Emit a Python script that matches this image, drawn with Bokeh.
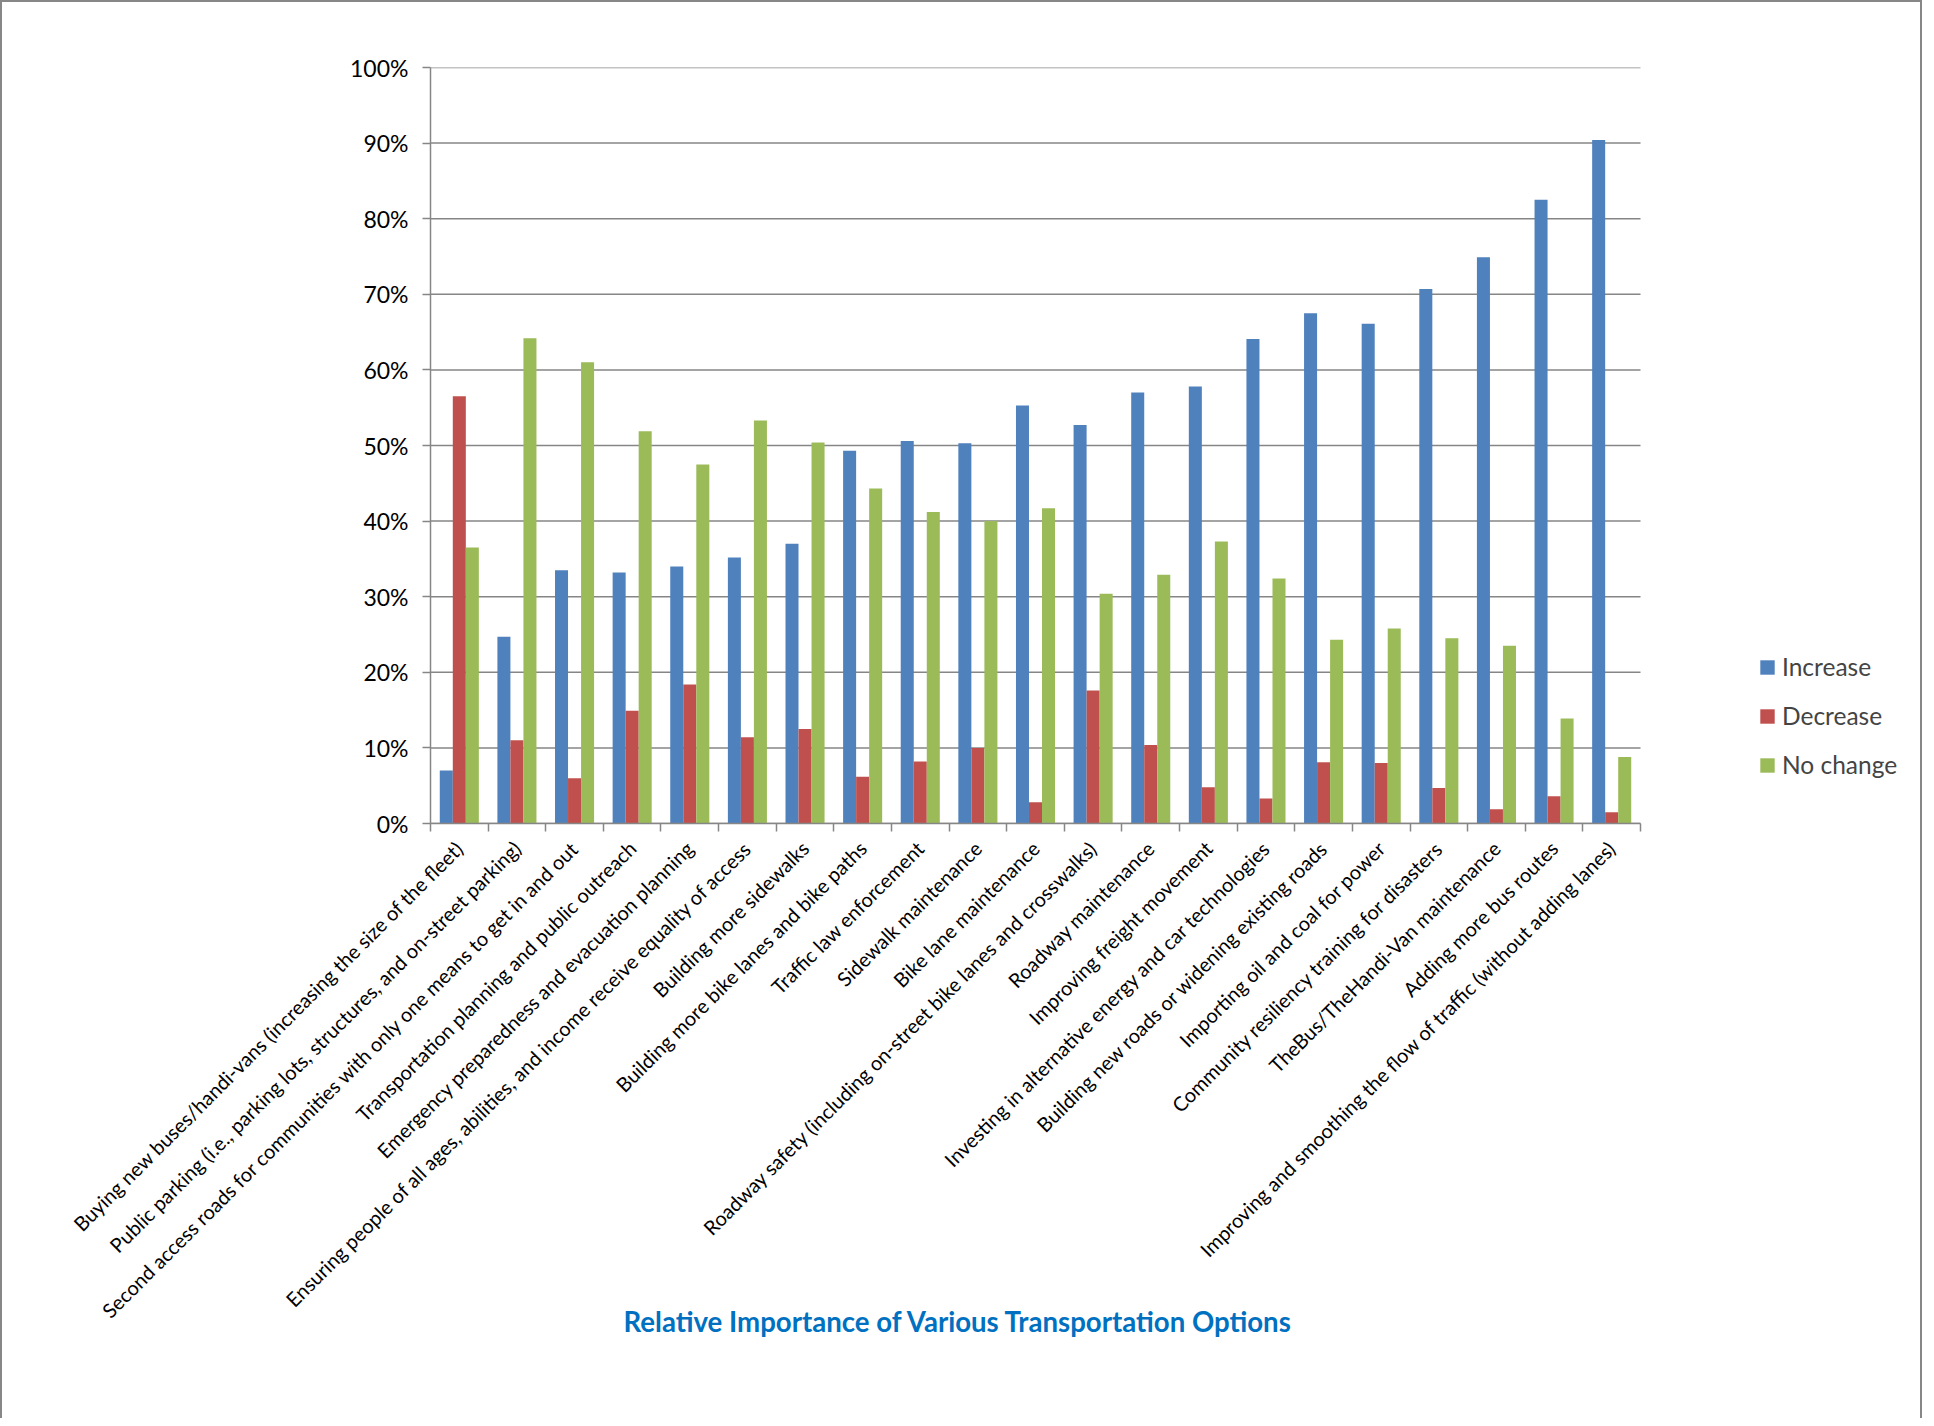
from math import pi
from bokeh.plotting import figure
from bokeh.models import (ColumnDataSource, Range1d, LinearAxis, FixedTicker,
                          PrintfTickFormatter, Legend, LegendItem, Title)
from bokeh.transform import dodge
from bokeh.embed import file_html
from bokeh.resources import INLINE

# ---------------- data ----------------
categories = [
    "Buying new buses/handi-vans (increasing the size of the fleet)",
    "Public parking (i.e., parking lots, structures, and on-street parking)",
    "Second access roads for communities with only one means to get in and out",
    "Transportation planning and public outreach",
    "Emergency preparedness and evacuation planning",
    "Ensuring people of all ages, abilities, and income receive equality of access",
    "Building more sidewalks",
    "Building more bike lanes and bike paths",
    "Traffic law enforcement",
    "Sidewalk maintenance",
    "Bike lane maintenance",
    "Roadway safety (including on-street bike lanes and crosswalks)",
    "Roadway maintenance",
    "Improving freight movement",
    "Investing in alternative energy and car technologies",
    "Building new roads or widening existing roads",
    "Importing oil and coal for power",
    "Community resiliency training for disasters",
    "TheBus/TheHandi-Van maintenance",
    "Adding more bus routes",
    "Improving and smoothing the flow of traffic (without adding lanes)",
]
increase = [7.0, 24.7, 33.5, 33.2, 34.0, 35.2, 37.0, 49.3, 50.6, 50.3, 55.3,
            52.7, 57.0, 57.8, 64.1, 67.5, 66.1, 70.7, 74.9, 82.5, 90.4]
decrease = [56.5, 11.0, 6.0, 14.9, 18.4, 11.4, 12.5, 6.2, 8.2, 10.0, 2.8,
            17.6, 10.4, 4.8, 3.3, 8.1, 8.0, 4.7, 1.9, 3.6, 1.5]
no_change = [36.5, 64.2, 61.0, 51.9, 47.5, 53.3, 50.4, 44.3, 41.2, 40.0, 41.7,
             30.4, 32.9, 37.3, 32.4, 24.3, 25.8, 24.5, 23.5, 13.9, 8.8]
series_names = ["Increase", "Decrease", "No change"]
series_colors = ["#4F81BD", "#C0504D", "#9BBB59"]
y_ticks = [0, 10, 20, 30, 40, 50, 60, 70, 80, 90, 100]
chart_title = "Relative Importance of Various Transportation Options"

# ---------------- style / layout ----------------
FONT = "Lato"
GRID = "#868686"
n = len(categories)
centers = [i + 0.5 for i in range(n)]      # slot centre of each category
bounds = [float(i) for i in range(n + 1)]  # slot boundaries (tick marks)

W, H = 1922, 1418
FRAME_L, FRAME_T, FRAME_H = 428, 65, 756
PLOT_W = 1210                       # width of the bar area
FRAME_W = W - FRAME_L - 4           # frame also spans the legend area
x_end = n * FRAME_W / PLOT_W

src = ColumnDataSource(dict(pos=centers, cat=categories, inc=increase, dec=decrease, nc=no_change))

p = figure(x_range=Range1d(0, x_end), y_range=Range1d(0, 100),
           width=W, height=H,
           min_border_left=FRAME_L, min_border_right=W - FRAME_L - FRAME_W,
           min_border_top=FRAME_T, min_border_bottom=H - FRAME_T - FRAME_H,
           output_backend="svg", toolbar_location=None,
           x_axis_location=None, y_axis_location=None,
           outline_line_color=None,
           background_fill_color="white", border_fill_color="white",
           styles={"border-top": "2px solid #878787",
                   "border-left": "2px solid #878787",
                   "border-right": "2px solid #878787"})

p.xgrid.visible = False
p.ygrid.visible = False

# horizontal gridlines, limited to the bar area
p.segment(x0=0, x1=n, y0=y_ticks, y1=y_ticks, line_color=GRID, line_width=1.5)

# y axis
yaxis = LinearAxis(ticker=FixedTicker(ticks=y_ticks),
                   formatter=PrintfTickFormatter(format="%d%%"),
                   axis_line_color=GRID, axis_line_width=1.5,
                   major_tick_line_color=GRID, major_tick_line_width=1.5,
                   major_tick_in=0, major_tick_out=8,
                   minor_tick_line_color=None,
                   major_label_standoff=14,
                   major_label_text_font=FONT,
                   major_label_text_font_size="23px",
                   major_label_text_color="black")
p.add_layout(yaxis, "left")

# x axis: labels at slot centres, tick marks at slot boundaries
xaxis = LinearAxis(ticker=FixedTicker(ticks=centers, minor_ticks=bounds),
                   bounds=(0, n),
                   major_label_overrides={c: lab for c, lab in zip(centers, categories)},
                   major_tick_line_color=None, major_tick_in=0, major_tick_out=0,
                   minor_tick_line_color=GRID, minor_tick_line_width=1.5,
                   minor_tick_in=0, minor_tick_out=8,
                   axis_line_color=GRID, axis_line_width=1.5,
                   major_label_orientation=pi / 4,
                   major_label_standoff=13,
                   major_label_text_font=FONT,
                   major_label_text_font_size="20px",
                   major_label_text_color="black")
p.add_layout(xaxis, "below")

# chart (axis) title, pulled up beside the rotated labels
p.add_layout(Title(text=chart_title, align="left", offset=193,
                   vertical_align="top", standoff=-57,
                   text_font=FONT, text_font_style="bold", text_font_size="27.6px",
                   text_color="#0070C0"), "below")

# bars
bar_w = 0.226
renderers = []
for i, (key, color) in enumerate(zip(["inc", "dec", "nc"], series_colors)):
    r = p.vbar(x=dodge("pos", (i - 1) * bar_w), top=key, width=bar_w,
               source=src, fill_color=color, line_color=None)
    renderers.append(r)

legend = Legend(items=[LegendItem(label=nm, renderers=[r]) for nm, r in zip(series_names, renderers)],
                location=(1328, 44), orientation="vertical",
                glyph_width=18, glyph_height=18, label_height=28, spacing=20,
                padding=0, margin=0, label_standoff=6,
                label_text_font=FONT, label_text_font_size="24.5px",
                border_line_color=None, background_fill_alpha=0)
p.add_layout(legend, "center")

open("out.html", "w").write(file_html(p, INLINE))
